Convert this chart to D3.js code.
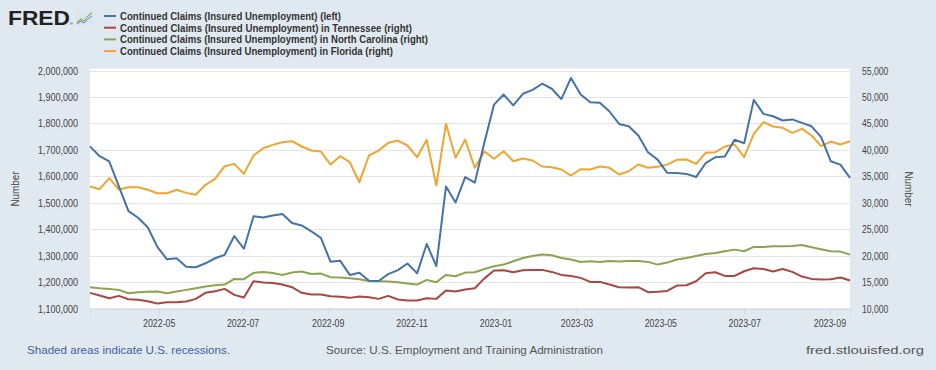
<!DOCTYPE html>
<html><head><meta charset="utf-8">
<script src="https://cdn.jsdelivr.net/npm/d3@7"></script>
<style>
html,body{margin:0;padding:0;background:#e1e9f0;}
svg{display:block;font-family:"Liberation Sans",Arial,sans-serif;}
</style>
</head><body>
<svg id="chart" width="936" height="370"></svg>
<script>
// ---------- data ----------
const dates = [
"2022-03-12","2022-03-19","2022-03-26","2022-04-02","2022-04-09","2022-04-16","2022-04-23","2022-04-30",
"2022-05-07","2022-05-14","2022-05-21","2022-05-28","2022-06-04","2022-06-11","2022-06-18","2022-06-25",
"2022-07-02","2022-07-09","2022-07-16","2022-07-23","2022-07-30","2022-08-06","2022-08-13","2022-08-20",
"2022-08-27","2022-09-03","2022-09-10","2022-09-17","2022-09-24","2022-10-01","2022-10-08","2022-10-15",
"2022-10-22","2022-10-29","2022-11-05","2022-11-12","2022-11-19","2022-11-26","2022-12-03","2022-12-10",
"2022-12-17","2022-12-24","2022-12-31","2023-01-07","2023-01-14","2023-01-21","2023-01-28","2023-02-04",
"2023-02-11","2023-02-18","2023-02-25","2023-03-04","2023-03-11","2023-03-18","2023-03-25","2023-04-01",
"2023-04-08","2023-04-15","2023-04-22","2023-04-29","2023-05-06","2023-05-13","2023-05-20","2023-05-27",
"2023-06-03","2023-06-10","2023-06-17","2023-06-24","2023-07-01","2023-07-08","2023-07-15","2023-07-22",
"2023-07-29","2023-08-05","2023-08-12","2023-08-19","2023-08-26","2023-09-02","2023-09-09","2023-09-16"];

// Continued Claims, U.S. (left axis)
const usClaims = [
1713000,1676000,1656000,1562000,1468000,1443000,1407000,1333000,1286000,1290000,
1258000,1256000,1271000,1290000,1303000,1374000,1326000,1449000,1444000,1452000,
1457000,1423000,1414000,1392000,1367000,1277000,1281000,1227000,1235000,1205000,
1204000,1230000,1245000,1270000,1233000,1344000,1260000,1561000,1501000,1597000,
1576000,1729000,1871000,1909000,1868000,1912000,1927000,1950000,1931000,1892000,
1972000,1909000,1880000,1878000,1845000,1798000,1789000,1754000,1691000,1663000,
1613000,1612000,1609000,1597000,1650000,1672000,1675000,1738000,1725000,1889000,
1836000,1827000,1811000,1815000,1802000,1789000,1748000,1657000,1644000,1594000];

// Tennessee (right axis)
const tnClaims = [
12960,12450,11950,12390,11760,11640,11380,10940,11200,11200,
11320,11820,12960,13270,13710,12580,12080,15160,14910,14840,
14530,14030,12960,12640,12640,12330,12200,12010,12260,12140,
11820,12390,11700,11510,11510,11950,11820,13400,13210,13590,
13830,15700,17170,17230,16860,17230,17300,17300,16920,16350,
16160,15790,15030,15030,14530,14030,13960,14030,13080,13150,
13330,14340,14400,15160,16670,16860,16160,16160,17040,17610,
17480,16980,17480,16920,16040,15600,15470,15540,15850,15280];

// North Carolina (right axis)
const ncClaims = [
14030,13840,13710,13520,12890,13080,13150,13210,12890,13210,
13520,13840,14150,14400,14530,15600,15540,16730,16920,16730,
16350,16790,16980,16540,16600,15910,15850,15720,15540,15220,
15160,15090,14970,14720,14530,15410,14970,16350,16100,16790,
16860,17480,17990,18300,18930,19560,19940,20190,20060,19560,
19250,18810,18930,18810,18990,18870,18990,18990,18810,18300,
18680,19250,19560,19940,20320,20500,20820,21130,20820,21640,
21640,21760,21760,21820,22010,21570,21190,20820,20760,20190];

// Florida (right axis)
const flClaims = [
33060,32560,34640,32500,32940,32940,32440,31800,31800,32440,
31860,31500,33390,34520,36900,37350,35460,38930,40310,40940,
41440,41630,40630,39870,39680,37220,38800,37660,33880,38930,
39870,41320,41760,40820,38610,41890,33250,44920,38490,41950,
36600,39680,38300,39740,37850,38360,37980,36850,36720,36280,
35140,36340,36280,36850,36600,35330,35960,37220,36600,36790,
37200,38110,38170,37350,39430,39560,40630,41010,38610,43020,
45230,44410,44160,43210,43970,42710,40690,41570,41010,41630];

const leftTicks = [1100000,1200000,1300000,1400000,1500000,1600000,1700000,1800000,1900000,2000000];
const rightTicks = [10000,15000,20000,25000,30000,35000,40000,45000,50000,55000];
const xTickLabels = ["2022-05","2022-07","2022-09","2022-11","2023-01","2023-03","2023-05","2023-07","2023-09"];

const seriesNames = [
"Continued Claims (Insured Unemployment) (left)",
"Continued Claims (Insured Unemployment) in Tennessee (right)",
"Continued Claims (Insured Unemployment) in North Carolina (right)",
"Continued Claims (Insured Unemployment) in Florida (right)"];
const seriesColors = ["#4572a7","#aa4643","#89a54e","#efa52f"];

// ---------- chart ----------
const svg = d3.select("#chart");
const P = {left:90, right:850, top:70.5, bottom:308.5};

function condense(sel, k){
  sel.each(function(){
    const w = this.getComputedTextLength();
    d3.select(this).attr("textLength", w*k).attr("lengthAdjust","spacingAndGlyphs");
  });
}
function fitWidth(sel, w){
  sel.attr("textLength", w).attr("lengthAdjust","spacingAndGlyphs");
}

const parseDay = d3.utcParse("%Y-%m-%d");
const parseMonth = d3.utcParse("%Y-%m");
const xDates = dates.map(parseDay);

const x = d3.scaleUtc().domain(d3.extent(xDates)).range([P.left, P.right]);
const yL = d3.scaleLinear().domain([1100000, 2000000]).range([P.bottom, P.top]);
const yR = d3.scaleLinear().domain([10000, 55000]).range([P.bottom, P.top]);

svg.append("rect").attr("width",936).attr("height",370).attr("fill","#e1e9f0");
svg.append("rect").attr("x",P.left).attr("y",P.top-2).attr("width",P.right-P.left).attr("height",P.bottom-P.top+2).attr("fill","#ffffff");

// gridlines
svg.append("g").selectAll("line").data(leftTicks).join("line")
  .attr("x1",P.left).attr("x2",P.right)
  .attr("y1",d=>Math.round(yL(d))+0.5).attr("y2",d=>Math.round(yL(d))+0.5)
  .attr("stroke","#e4e4e4").attr("stroke-width",1);

// left axis
const fmt = d3.format(",");
const gL = svg.append("g").attr("transform",`translate(${P.left-12},0)`)
  .call(d3.axisLeft(yL).tickValues(leftTicks).tickFormat(fmt).tickSize(0).tickPadding(0));
gL.select(".domain").remove();
gL.selectAll("text").attr("font-size",10).attr("fill","#444").attr("font-family",'"Liberation Sans",Arial,sans-serif').attr("dy","0.35em").call(condense,0.9);

// right axis
const gR = svg.append("g").attr("transform",`translate(${P.right+12},0)`)
  .call(d3.axisRight(yR).tickValues(rightTicks).tickFormat(fmt).tickSize(0).tickPadding(0));
gR.select(".domain").remove();
gR.selectAll("text").attr("font-size",10).attr("fill","#444").attr("font-family",'"Liberation Sans",Arial,sans-serif').attr("dy","0.35em").call(condense,0.86);

// x axis
const gX = svg.append("g").attr("transform",`translate(0,${P.bottom})`)
  .call(d3.axisBottom(x).tickValues(xTickLabels.map(parseMonth)).tickFormat(d3.utcFormat("%Y-%m")).tickSize(6).tickPadding(5));
gX.select(".domain").attr("stroke","#ccd6eb");
gX.selectAll(".tick line").attr("stroke","#ccd6eb");
gX.selectAll("text").attr("font-size",10).attr("fill","#444").attr("font-family",'"Liberation Sans",Arial,sans-serif').call(condense,0.88);

// axis titles
svg.append("text").attr("transform","translate(19,189) rotate(-90)").attr("text-anchor","middle")
  .attr("font-size",11).attr("fill","#444").text("Number").call(condense,0.9);
svg.append("text").attr("transform","translate(905,189) rotate(90)").attr("text-anchor","middle")
  .attr("font-size",11).attr("fill","#444").text("Number").call(condense,0.9);

// lines
const allSeries = [
  {vals:usClaims, y:yL, color:seriesColors[0]},
  {vals:tnClaims, y:yR, color:seriesColors[1]},
  {vals:ncClaims, y:yR, color:seriesColors[2]},
  {vals:flClaims, y:yR, color:seriesColors[3]}];
const drawOrder = [1,2,3,0];
drawOrder.forEach(k=>{
  const s = allSeries[k];
  const line = d3.line().x((d,i)=>x(xDates[i])).y(d=>s.y(d)).curve(d3.curveLinear);
  svg.append("path").datum(s.vals).attr("d",line).attr("fill","none")
    .attr("stroke",s.color).attr("stroke-width",2).attr("stroke-linejoin","round");
});

// legend
const legendW = [221, 292, 308, 273];
const lg = svg.append("g");
seriesNames.forEach((name,i)=>{
  const yy = 16 + i*11.7;
  lg.append("line").attr("x1",104).attr("x2",116).attr("y1",yy).attr("y2",yy)
    .attr("stroke",seriesColors[i]).attr("stroke-width",2);
  lg.append("text").attr("x",120).attr("y",yy+4).attr("font-size",11).attr("font-weight","bold")
    .attr("fill","#333").text(name).call(fitWidth, legendW[i]);
});

// FRED logo
svg.append("text").attr("x",8).attr("y",25).attr("font-size",21).attr("font-weight","bold")
  .attr("font-family",'"Liberation Sans",Arial,sans-serif').attr("fill","#222")
  .text("FRED").call(fitWidth,62);
svg.append("text").attr("x",70).attr("y",25).attr("font-size",4).attr("fill","#222").text("®");
const ic = svg.append("g").attr("transform","translate(76,11)");
ic.append("rect").attr("width",17).attr("height",14).attr("fill","#dbe5ef");
ic.append("polyline").attr("points","1,12 5,8 8,10 12,5 16,2").attr("fill","none").attr("stroke","#8fb04f").attr("stroke-width",1.2);
ic.append("polyline").attr("points","1,13 5,10 8,12 12,8 16,5").attr("fill","none").attr("stroke","#5b82b5").attr("stroke-width",1);

// footer
svg.append("text").attr("x",27).attr("y",354).attr("font-size",11.5).attr("fill","#3e5f95")
  .text("Shaded areas indicate U.S. recessions.").call(fitWidth,203);
svg.append("text").attr("x",326).attr("y",354).attr("font-size",11.5).attr("fill","#555")
  .text("Source: U.S. Employment and Training Administration").call(fitWidth,277);
svg.append("text").attr("x",806).attr("y",354).attr("font-size",11.5).attr("fill","#555")
  .text("fred.stlouisfed.org").call(fitWidth,118);
</script>
</body></html>
